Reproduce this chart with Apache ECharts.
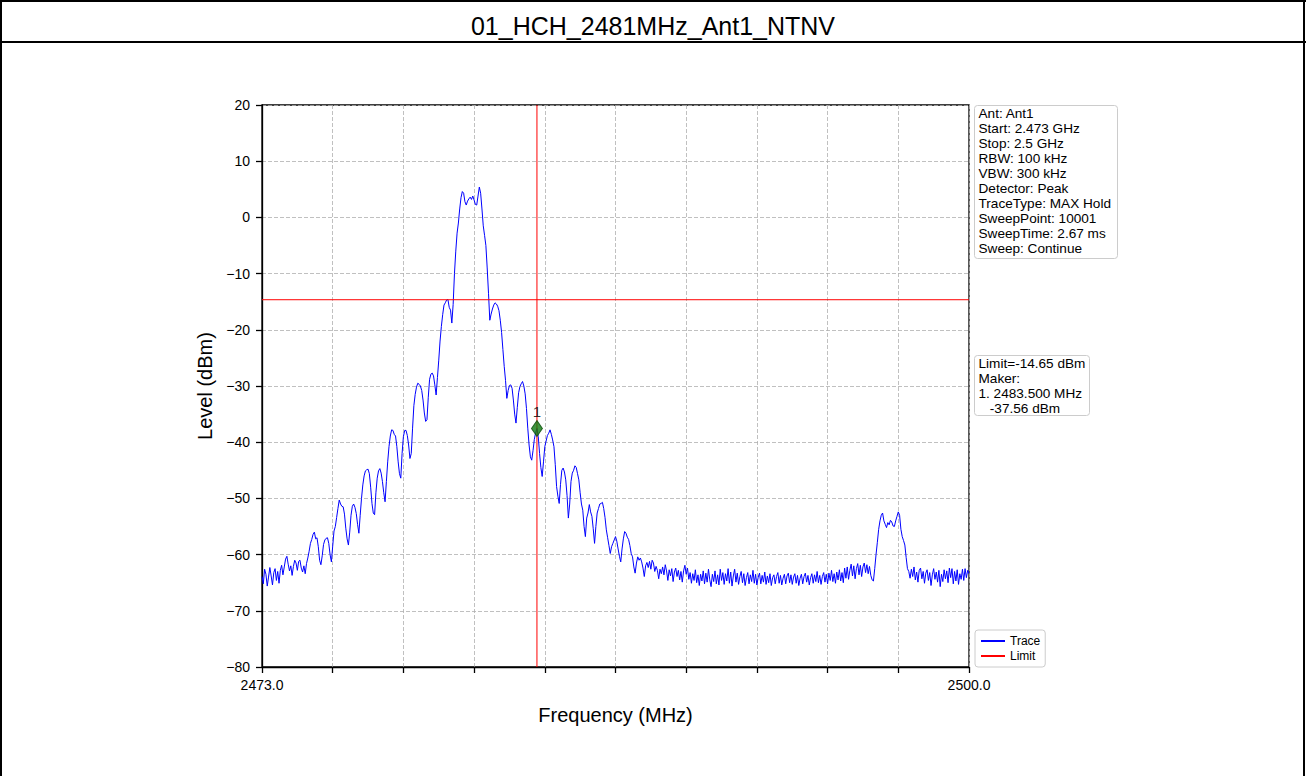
<!DOCTYPE html>
<html>
<head>
<meta charset="utf-8">
<script src="https://cdn.jsdelivr.net/npm/echarts@6/dist/echarts.min.js"></script>
<style>
  html, body { margin: 0; padding: 0; background: #ffffff; }
  #chart { width: 1306px; height: 776px; }
</style>
</head>
<body>
<div id="chart"></div>
<script>
// ---- chart content ----
const chartTitle = '01_HCH_2481MHz_Ant1_NTNV';
const freqStart = 2473.0;
const freqStop = 2500.0;
const xTicks = [2473.0, 2475.7, 2478.4, 2481.1, 2483.8, 2486.5, 2489.2, 2491.9, 2494.6, 2497.3, 2500.0];
const xLabelTicks = [2473.0, 2500.0];
const levelMin = -80;
const levelMax = 20;
const levelStep = 10;
const limitLevel = -14.65;
const markerFreq = 2483.5;
const markerLevel = -37.56;
const markerName = '1';
const settingsLines = [
  'Ant: Ant1',
  'Start: 2.473 GHz',
  'Stop: 2.5 GHz',
  'RBW: 100 kHz',
  'VBW: 300 kHz',
  'Detector: Peak',
  'TraceType: MAX Hold',
  'SweepPoint: 10001',
  'SweepTime: 2.67 ms',
  'Sweep: Continue'
];
const markerLines = [
  'Limit=-14.65 dBm',
  'Maker:',
  '1. 2483.500 MHz',
  '   -37.56 dBm'
];

// Max-hold trace, [frequency MHz, level dBm]
const trace = [
  [2473.00,-63.9],[2473.05,-65.2],[2473.10,-62.6],[2473.15,-63.5],[2473.20,-65.6],[2473.25,-64.0],
  [2473.30,-62.3],[2473.35,-63.8],[2473.40,-65.4],[2473.45,-63.2],[2473.50,-62.5],[2473.55,-64.6],
  [2473.60,-63.0],[2473.65,-65.1],[2473.70,-62.8],[2473.75,-61.9],[2473.80,-63.6],[2473.85,-62.2],
  [2473.90,-60.8],[2473.95,-60.3],[2474.00,-61.7],[2474.05,-62.9],[2474.10,-62.0],[2474.15,-63.7],
  [2474.20,-62.1],[2474.25,-61.0],[2474.30,-61.5],[2474.35,-62.8],[2474.40,-61.2],[2474.45,-61.0],
  [2474.50,-62.4],[2474.55,-63.1],[2474.60,-62.0],[2474.65,-63.4],[2474.70,-61.6],[2474.75,-60.6],
  [2474.80,-59.4],[2474.85,-58.0],[2474.90,-57.3],[2474.95,-56.4],[2475.00,-56.0],[2475.05,-57.2],
  [2475.10,-57.0],[2475.15,-58.6],[2475.20,-61.0],[2475.25,-61.8],[2475.30,-60.2],[2475.35,-58.2],
  [2475.40,-57.4],[2475.45,-57.1],[2475.50,-57.0],[2475.55,-58.0],[2475.60,-60.0],[2475.65,-61.3],
  [2475.70,-58.5],[2475.75,-55.8],[2475.80,-55.0],[2475.85,-53.4],[2475.90,-51.8],[2475.95,-50.3],
  [2476.00,-51.0],[2476.05,-51.4],[2476.10,-51.5],[2476.15,-52.8],[2476.20,-55.3],[2476.25,-57.2],
  [2476.30,-58.3],[2476.35,-56.0],[2476.40,-53.0],[2476.45,-51.4],[2476.50,-51.0],[2476.55,-51.6],
  [2476.60,-52.7],[2476.65,-54.6],[2476.70,-56.2],[2476.75,-53.0],[2476.80,-50.0],[2476.85,-47.6],
  [2476.90,-46.0],[2476.95,-45.1],[2477.00,-44.9],[2477.05,-44.8],[2477.10,-45.6],[2477.15,-48.0],
  [2477.20,-50.9],[2477.25,-52.6],[2477.30,-52.9],[2477.35,-49.0],[2477.40,-46.4],[2477.45,-45.1],
  [2477.50,-44.7],[2477.55,-45.5],[2477.60,-47.0],[2477.65,-49.0],[2477.70,-50.6],[2477.75,-47.0],
  [2477.80,-43.5],[2477.85,-40.8],[2477.90,-38.9],[2477.95,-37.8],[2478.00,-37.9],[2478.05,-38.6],
  [2478.10,-38.9],[2478.15,-40.8],[2478.20,-43.5],[2478.25,-45.6],[2478.30,-46.4],[2478.35,-42.0],
  [2478.40,-39.0],[2478.45,-37.9],[2478.50,-37.9],[2478.55,-38.8],[2478.60,-40.5],[2478.65,-42.9],
  [2478.70,-42.0],[2478.75,-37.5],[2478.80,-33.5],[2478.85,-31.5],[2478.90,-30.2],[2478.95,-29.5],
  [2479.00,-29.7],[2479.05,-30.0],[2479.10,-30.8],[2479.15,-32.5],[2479.20,-34.8],[2479.25,-36.3],
  [2479.30,-36.0],[2479.35,-32.0],[2479.40,-28.8],[2479.45,-27.9],[2479.50,-27.7],[2479.55,-28.2],
  [2479.60,-29.8],[2479.65,-31.6],[2479.70,-28.5],[2479.75,-25.4],[2479.80,-22.0],[2479.85,-19.4],
  [2479.90,-17.3],[2479.95,-15.6],[2480.00,-15.2],[2480.05,-14.7],[2480.10,-14.6],[2480.15,-16.0],
  [2480.20,-16.5],[2480.25,-18.8],[2480.30,-15.5],[2480.35,-10.0],[2480.40,-6.0],[2480.45,-2.8],
  [2480.50,-1.0],[2480.55,1.5],[2480.60,3.5],[2480.65,4.6],[2480.70,4.3],[2480.75,2.8],
  [2480.80,2.2],[2480.85,2.9],[2480.90,3.3],[2480.95,3.6],[2481.00,3.2],[2481.05,3.8],
  [2481.10,3.1],[2481.15,2.3],[2481.20,2.2],[2481.25,3.8],[2481.30,5.4],[2481.35,4.3],
  [2481.40,1.5],[2481.45,-1.5],[2481.50,-3.2],[2481.55,-5.0],[2481.60,-9.0],[2481.65,-13.5],
  [2481.70,-18.3],[2481.75,-17.2],[2481.80,-16.3],[2481.85,-15.6],[2481.90,-15.2],[2481.95,-15.4],
  [2482.00,-15.8],[2482.05,-16.6],[2482.10,-18.3],[2482.15,-20.5],[2482.20,-23.5],[2482.25,-26.5],
  [2482.30,-29.0],[2482.35,-32.2],[2482.40,-30.8],[2482.45,-29.9],[2482.50,-29.8],[2482.55,-30.4],
  [2482.60,-32.5],[2482.65,-35.0],[2482.70,-36.6],[2482.75,-33.8],[2482.80,-31.2],[2482.85,-30.1],
  [2482.90,-29.6],[2482.95,-29.2],[2483.00,-30.0],[2483.05,-31.4],[2483.10,-34.0],[2483.15,-37.5],
  [2483.20,-40.5],[2483.25,-42.6],[2483.30,-43.2],[2483.35,-41.5],[2483.40,-39.5],[2483.45,-38.3],
  [2483.50,-37.56],[2483.55,-39.0],[2483.60,-42.0],[2483.65,-44.5],[2483.70,-46.1],[2483.75,-43.5],
  [2483.80,-40.8],[2483.85,-39.8],[2483.90,-38.8],[2483.95,-38.4],[2484.00,-37.8],[2484.05,-38.6],
  [2484.10,-39.6],[2484.15,-40.8],[2484.20,-44.0],[2484.25,-47.9],[2484.30,-49.6],[2484.35,-50.9],
  [2484.40,-47.5],[2484.45,-45.0],[2484.50,-44.6],[2484.55,-45.3],[2484.60,-46.7],[2484.65,-49.5],
  [2484.70,-53.5],[2484.75,-51.0],[2484.80,-47.0],[2484.85,-45.5],[2484.90,-45.0],[2484.95,-44.2],
  [2485.00,-44.5],[2485.05,-45.6],[2485.10,-46.7],[2485.15,-49.0],[2485.20,-51.0],[2485.25,-52.1],
  [2485.30,-55.0],[2485.35,-56.8],[2485.40,-53.5],[2485.45,-52.6],[2485.50,-51.1],[2485.55,-52.4],
  [2485.60,-53.2],[2485.65,-55.4],[2485.70,-58.0],[2485.75,-55.0],[2485.80,-52.6],[2485.85,-51.8],
  [2485.90,-51.0],[2485.95,-50.9],[2486.00,-50.7],[2486.05,-51.8],[2486.10,-53.4],[2486.15,-55.6],
  [2486.20,-57.0],[2486.25,-58.4],[2486.30,-59.8],[2486.35,-58.6],[2486.40,-58.0],[2486.45,-57.4],
  [2486.50,-56.8],[2486.55,-57.6],[2486.60,-59.0],[2486.65,-60.3],[2486.70,-61.3],[2486.75,-59.0],
  [2486.80,-57.2],[2486.85,-55.9],[2486.90,-56.2],[2486.95,-56.9],[2487.00,-57.3],[2487.05,-58.4],
  [2487.10,-59.8],[2487.15,-60.4],[2487.20,-62.2],[2487.25,-63.3],[2487.30,-61.5],[2487.35,-60.4],
  [2487.40,-61.0],[2487.45,-60.6],[2487.50,-61.3],[2487.55,-62.4],[2487.60,-63.9],[2487.65,-62.0],
  [2487.70,-61.4],[2487.75,-62.3],[2487.80,-61.2],[2487.85,-62.6],[2487.90,-61.0],[2487.95,-61.5],
  [2488.00,-63.0],[2488.05,-62.1],[2488.10,-62.8],[2488.15,-64.3],[2488.20,-62.6],[2488.25,-63.4],
  [2488.30,-62.2],[2488.35,-63.6],[2488.40,-61.8],[2488.45,-62.9],[2488.50,-64.6],[2488.55,-62.7],
  [2488.60,-63.8],[2488.65,-62.5],[2488.70,-64.8],[2488.75,-63.1],[2488.80,-62.4],[2488.85,-63.9],
  [2488.90,-62.8],[2488.95,-64.5],[2489.00,-63.0],[2489.05,-64.9],[2489.10,-62.9],[2489.15,-61.9],
  [2489.20,-63.5],[2489.25,-62.4],[2489.30,-64.4],[2489.35,-63.2],[2489.40,-65.1],[2489.45,-63.4],
  [2489.50,-64.6],[2489.55,-62.7],[2489.60,-65.0],[2489.65,-63.6],[2489.70,-65.5],[2489.75,-63.5],
  [2489.80,-64.7],[2489.85,-62.9],[2489.90,-65.2],[2489.95,-63.3],[2490.00,-64.9],[2490.05,-62.6],
  [2490.10,-64.5],[2490.15,-65.7],[2490.20,-63.5],[2490.25,-64.8],[2490.30,-62.9],[2490.35,-65.2],
  [2490.40,-63.6],[2490.45,-65.4],[2490.50,-62.6],[2490.55,-64.6],[2490.60,-63.2],[2490.65,-65.3],
  [2490.70,-63.4],[2490.75,-64.7],[2490.80,-62.5],[2490.85,-65.1],[2490.90,-63.1],[2490.95,-65.6],
  [2491.00,-63.8],[2491.05,-62.6],[2491.10,-64.9],[2491.15,-63.3],[2491.20,-65.3],[2491.25,-63.9],
  [2491.30,-63.0],[2491.35,-65.0],[2491.40,-63.4],[2491.45,-65.5],[2491.50,-64.1],[2491.55,-63.2],
  [2491.60,-65.2],[2491.65,-63.6],[2491.70,-64.8],[2491.75,-62.8],[2491.80,-65.1],[2491.85,-63.5],
  [2491.90,-65.4],[2491.95,-64.0],[2492.00,-63.3],[2492.05,-65.2],[2492.10,-63.7],[2492.15,-64.9],
  [2492.20,-63.1],[2492.25,-65.3],[2492.30,-63.8],[2492.35,-65.0],[2492.40,-63.4],[2492.45,-65.5],
  [2492.50,-64.1],[2492.55,-63.6],[2492.60,-65.2],[2492.65,-63.9],[2492.70,-63.2],[2492.75,-65.1],
  [2492.80,-63.7],[2492.85,-65.4],[2492.90,-64.2],[2492.95,-63.5],[2493.00,-65.2],[2493.05,-63.8],
  [2493.10,-63.3],[2493.15,-65.0],[2493.20,-63.6],[2493.25,-65.3],[2493.30,-64.0],[2493.35,-63.4],
  [2493.40,-65.1],[2493.45,-63.7],[2493.50,-65.5],[2493.55,-64.2],[2493.60,-63.5],[2493.65,-65.2],
  [2493.70,-63.9],[2493.75,-63.3],[2493.80,-64.9],[2493.85,-63.7],[2493.90,-65.4],[2493.95,-64.1],
  [2494.00,-63.4],[2494.05,-65.1],[2494.10,-63.6],[2494.15,-64.8],[2494.20,-63.0],[2494.25,-65.0],
  [2494.30,-63.7],[2494.35,-65.3],[2494.40,-63.9],[2494.45,-63.2],[2494.50,-64.9],[2494.55,-63.5],
  [2494.60,-65.2],[2494.65,-63.3],[2494.70,-64.6],[2494.75,-62.8],[2494.80,-64.8],[2494.85,-63.4],
  [2494.90,-65.1],[2494.95,-63.1],[2495.00,-64.5],[2495.05,-62.7],[2495.10,-64.7],[2495.15,-63.2],
  [2495.20,-65.0],[2495.25,-62.4],[2495.30,-64.2],[2495.35,-62.2],[2495.40,-64.4],[2495.45,-62.8],
  [2495.50,-61.7],[2495.55,-63.8],[2495.60,-62.0],[2495.65,-64.3],[2495.70,-62.5],[2495.75,-61.6],
  [2495.80,-63.6],[2495.85,-61.9],[2495.90,-63.9],[2495.95,-62.2],[2496.00,-61.5],[2496.05,-63.2],
  [2496.10,-61.8],[2496.15,-63.4],[2496.20,-62.1],[2496.25,-63.7],[2496.30,-64.5],[2496.35,-64.7],
  [2496.40,-62.5],[2496.45,-60.0],[2496.50,-57.8],[2496.55,-55.5],[2496.60,-54.0],[2496.65,-53.0],
  [2496.70,-52.6],[2496.75,-54.0],[2496.80,-54.6],[2496.85,-55.2],[2496.90,-54.3],[2496.95,-54.7],
  [2497.00,-53.9],[2497.05,-54.2],[2497.10,-54.9],[2497.15,-55.0],[2497.20,-54.0],[2497.25,-53.2],
  [2497.30,-52.4],[2497.35,-53.0],[2497.40,-55.5],[2497.45,-56.8],[2497.50,-57.5],[2497.55,-58.3],
  [2497.60,-60.5],[2497.65,-62.5],[2497.70,-63.0],[2497.75,-64.2],[2497.80,-62.6],[2497.85,-63.9],
  [2497.90,-62.2],[2497.95,-64.5],[2498.00,-63.1],[2498.05,-64.9],[2498.10,-62.8],[2498.15,-62.4],
  [2498.20,-64.3],[2498.25,-63.0],[2498.30,-65.1],[2498.35,-63.3],[2498.40,-62.7],[2498.45,-64.6],
  [2498.50,-63.2],[2498.55,-65.5],[2498.60,-63.6],[2498.65,-62.5],[2498.70,-64.4],[2498.75,-63.1],
  [2498.80,-64.9],[2498.85,-62.8],[2498.90,-65.7],[2498.95,-63.5],[2499.00,-64.8],[2499.05,-62.7],
  [2499.10,-64.3],[2499.15,-62.9],[2499.20,-65.0],[2499.25,-62.4],[2499.30,-64.1],[2499.35,-62.5],
  [2499.40,-65.2],[2499.45,-63.0],[2499.50,-64.7],[2499.55,-62.7],[2499.60,-65.3],[2499.65,-63.4],
  [2499.70,-64.4],[2499.75,-62.6],[2499.80,-64.6],[2499.85,-62.5],[2499.90,-64.1],[2499.95,-62.8],
  [2500.00,-63.4]
];

// ---- styling ----
const FONT = '"Liberation Sans", Arial, Helvetica, sans-serif';
const GRID = { left: 262, top: 105, width: 707, height: 562 };
const minusSign = v => String(v).replace('-', '\u2212');

const chart = echarts.init(document.getElementById('chart'), null, { renderer: 'svg' });

const option = {
  animation: false,
  backgroundColor: '#ffffff',
  textStyle: { fontFamily: FONT },
  title: {
    text: chartTitle,
    left: 'center',
    top: 8,
    textStyle: { fontFamily: FONT, fontSize: 25, fontWeight: 'normal', color: '#000' }
  },
  grid: {
    left: GRID.left, top: GRID.top, width: GRID.width, height: GRID.height,
    show: true, borderColor: '#000', borderWidth: 1.3, backgroundColor: 'transparent'
  },
  legend: {
    left: 975, top: 630,
    orient: 'vertical',
    icon: 'rect',
    itemWidth: 24, itemHeight: 2, itemGap: 3,
    padding: [5, 5, 5, 6],
    borderColor: '#cccccc', borderWidth: 1, borderRadius: 3,
    backgroundColor: '#ffffff',
    textStyle: { fontFamily: FONT, fontSize: 12, color: '#000' },
    data: ['Trace', 'Limit']
  },
  xAxis: {
    type: 'value',
    min: freqStart, max: freqStop,
    name: 'Frequency (MHz)',
    nameLocation: 'middle',
    nameGap: 38,
    nameTextStyle: { fontFamily: FONT, fontSize: 20, color: '#000' },
    axisLine: { show: true, onZero: false, lineStyle: { color: '#000', width: 1.3 } },
    axisTick: { show: true, inside: false, length: 6, lineStyle: { color: '#000', width: 1.3 }, customValues: xTicks },
    axisLabel: {
      show: true, margin: 11, fontFamily: FONT, fontSize: 14, color: '#000',
      customValues: xLabelTicks,
      formatter: v => Number(v).toFixed(1)
    },
    splitLine: { show: true, lineStyle: { color: '#b0b0b0', width: 0.8, type: [4, 2] } }
  },
  yAxis: {
    type: 'value',
    min: levelMin, max: levelMax, interval: levelStep,
    name: 'Level (dBm)',
    nameLocation: 'middle',
    nameGap: 45,
    nameTextStyle: { fontFamily: FONT, fontSize: 20, color: '#000' },
    axisLine: { show: true, onZero: false, lineStyle: { color: '#000', width: 1.3 } },
    axisTick: { show: true, inside: false, length: 6, lineStyle: { color: '#000', width: 1.3 } },
    axisLabel: { margin: 12, fontFamily: FONT, fontSize: 14, color: '#000', formatter: v => minusSign(v) },
    splitLine: { show: true, lineStyle: { color: '#b0b0b0', width: 0.8, type: [4, 2] } }
  },
  series: [
    {
      name: 'Trace',
      type: 'line',
      data: trace,
      showSymbol: false,
      symbol: 'none',
      color: '#0000ff',
      lineStyle: { color: '#0000ff', width: 1 },
      silent: true,
      z: 3
    },
    {
      name: 'Limit',
      type: 'line',
      data: [[freqStart, limitLevel], [freqStop, limitLevel]],
      showSymbol: false,
      symbol: 'none',
      color: '#ff0000',
      lineStyle: { color: '#ff0000', width: 1 },
      silent: true,
      z: 4
    },
    {
      // vertical cursor through the marker frequency
      name: 'MarkerLine',
      type: 'line',
      data: [[markerFreq, levelMin], [markerFreq, levelMax]],
      showSymbol: false,
      symbol: 'none',
      color: '#ff0000',
      lineStyle: { color: '#ff0000', width: 1 },
      silent: true,
      z: 4
    },
    {
      name: 'Marker',
      type: 'scatter',
      data: [[markerFreq, markerLevel]],
      symbol: 'diamond',
      symbolSize: [11, 16],
      itemStyle: { color: '#0f7a0f', borderColor: '#0a4d0a', borderWidth: 1 },
      label: {
        show: true, position: 'top', distance: 1,
        formatter: markerName,
        fontFamily: FONT, fontSize: 15, color: '#000'
      },
      silent: true,
      z: 6
    }
  ],
  graphic: [
    // outer frame and title separator
    { type: 'line', shape: { x1: 1, y1: 0, x2: 1, y2: 776 }, style: { stroke: '#000', lineWidth: 2 }, silent: true },
    { type: 'line', shape: { x1: 1304, y1: 0, x2: 1304, y2: 776 }, style: { stroke: '#000', lineWidth: 2 }, silent: true },
    { type: 'line', shape: { x1: 0, y1: 1, x2: 1306, y2: 1 }, style: { stroke: '#000', lineWidth: 2 }, silent: true },
    { type: 'line', shape: { x1: 0, y1: 42, x2: 1306, y2: 42 }, style: { stroke: '#000', lineWidth: 2 }, silent: true },
    // instrument settings box
    {
      type: 'group', left: 974, top: 105,
      children: [
        { type: 'rect', shape: { x: 0, y: 0, width: 143, height: 153, r: 3 },
          style: { fill: '#ffffff', stroke: '#cccccc', lineWidth: 1 } },
        { type: 'text', x: 4, y: 0,
          style: { text: settingsLines.join('\n'), font: '13.6px ' + FONT, lineHeight: 15.1, fill: '#000' } }
      ]
    },
    // limit / marker readout box
    {
      type: 'group', left: 974, top: 355,
      children: [
        { type: 'rect', shape: { x: 0, y: 0, width: 115, height: 60, r: 3 },
          style: { fill: '#ffffff', stroke: '#cccccc', lineWidth: 1 } },
        { type: 'text', x: 4, y: 0,
          style: { text: markerLines.join('\n'), font: '13.6px ' + FONT, lineHeight: 15.1, fill: '#000' } }
      ]
    }
  ]
};

chart.setOption(option);
</script>
</body>
</html>
